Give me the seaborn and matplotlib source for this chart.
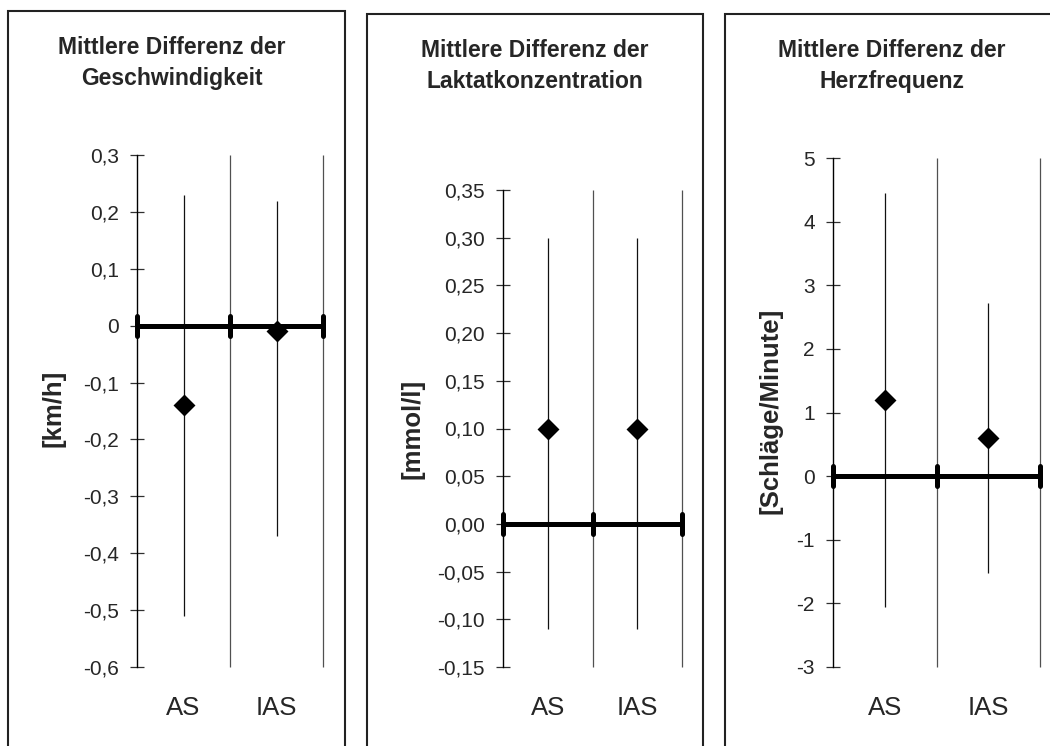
import numpy as np
import pandas as pd
import matplotlib
matplotlib.use("Agg")
import matplotlib.pyplot as plt
from matplotlib.patches import Rectangle
from matplotlib.markers import MarkerStyle
from matplotlib.ticker import FuncFormatter
import seaborn as sns

# ---------------- data ----------------
categories = ["AS", "IAS"]

titles = ["Mittlere Differenz der\nGeschwindigkeit",
          "Mittlere Differenz der\nLaktatkonzentration",
          "Mittlere Differenz der\nHerzfrequenz"]
ylabels = ["[km/h]", "[mmol/l]", "[Schläge/Minute]"]

speed_mean = [-0.14, -0.01]
speed_low = [-0.51, -0.37]
speed_high = [0.23, 0.22]
speed_ticks = [-0.6, -0.5, -0.4, -0.3, -0.2, -0.1, 0.0, 0.1, 0.2, 0.3]

lactate_mean = [0.10, 0.10]
lactate_low = [-0.11, -0.11]
lactate_high = [0.30, 0.30]
lactate_ticks = [-0.15, -0.10, -0.05, 0.00, 0.05, 0.10, 0.15, 0.20, 0.25, 0.30, 0.35]

heart_mean = [1.2, 0.6]
heart_low = [-2.05, -1.52]
heart_high = [4.45, 2.72]
heart_ticks = [-3, -2, -1, 0, 1, 2, 3, 4, 5]

tick_decimals = [1, 2, 0]

# ---------------- style ----------------
sns.set_style("white")
plt.rcParams["font.family"] = ["Liberation Sans", "DejaVu Sans"]

W, H = 1050, 746
fig = plt.figure(figsize=(W / 100, H / 100), dpi=100)

# layout in pixels: (axis_left, axis_right, axis_top, axis_bottom)
layouts = [(137, 323, 155, 667), (503, 682, 190, 667), (833, 1040, 158, 667)]
borders = [(8, 345, 11), (367, 703, 14), (725, 1060, 14)]
title_pos = [(172, 63), (535, 66), (892, 66)]
ylabel_pos = [(53, 408), (413, 429), (770, 411)]

means = [speed_mean, lactate_mean, heart_mean]
lows = [speed_low, lactate_low, heart_low]
highs = [speed_high, lactate_high, heart_high]
ticks = [speed_ticks, lactate_ticks, heart_ticks]


def make_fmt(dec):
    def f(v, pos):
        if dec == 0:
            return f"{int(round(v))}"
        if dec == 1 and abs(v) < 1e-9:
            return "0"
        return f"{v:.{dec}f}".replace(".", ",").replace("-0,00", "0,00")
    return FuncFormatter(f)


for i in range(3):
    l, r, t, b = layouts[i]
    ax = fig.add_axes([l / W, (H - b) / H, (r - l) / W, (b - t) / H])
    xs = np.arange(len(categories))
    bounds = np.arange(len(categories) + 1) - 0.5
    ymin, ymax = ticks[i][0], ticks[i][-1]

    # vertical category separator lines
    ax.vlines(bounds[1:], ymin, ymax, color="#505050", lw=0.9, clip_on=False, zorder=1)
    # confidence lines
    ax.vlines(xs, lows[i], highs[i], color="#111111", lw=0.9, zorder=2)
    # zero line with boundary marks
    ax.plot([bounds[0], bounds[-1]], [0, 0], color="black", lw=3.6,
            solid_capstyle="butt", zorder=3, clip_on=False)
    ax.plot(bounds, np.zeros(len(bounds)), linestyle="none",
            marker=MarkerStyle("|", capstyle="round"), ms=15, mew=3.6,
            color="black", zorder=3, clip_on=False)

    df = pd.DataFrame({"x": xs, "mean": means[i], "cat": categories})
    sns.scatterplot(data=df, x="x", y="mean", marker="D", s=125, color="black",
                    edgecolor="black", linewidth=0, ax=ax, zorder=4, clip_on=False)

    ax.set_xlim(bounds[0], bounds[-1])
    ax.set_ylim(ymin, ymax)
    ax.set_yticks(ticks[i])
    ax.yaxis.set_major_formatter(make_fmt(tick_decimals[i]))
    ax.tick_params(axis="y", direction="inout", length=9.4, width=0.9,
                   color="#303030", labelsize=15, pad=8.4, left=True)
    ax.set_xticks(xs)
    ax.set_xticklabels(categories)
    ax.tick_params(axis="x", length=0, labelsize=18.5, pad=21)
    ax.set_xlabel("")
    for s in ["top", "right", "bottom"]:
        ax.spines[s].set_visible(False)
    ax.spines["left"].set_color("black")
    ax.spines["left"].set_linewidth(1.0)
    ax.set_facecolor("none")

    ax.set_ylabel(ylabels[i], fontsize=18.5, fontweight="bold")
    ax.yaxis.label.set(ha="center", va="center", rotation_mode="default")
    lx, ly = ylabel_pos[i]
    ax.yaxis.set_label_coords((lx - l) / (r - l), (b - ly) / (b - t))

    tx, ty = title_pos[i]
    fig.text(tx / W, (H - ty) / H, titles[i], ha="center", va="center",
             fontsize=16.5, fontweight="bold", linespacing=1.43)

    bl, br, bt = borders[i]
    fig.add_artist(Rectangle((bl / W, -0.1), (br - bl) / W, (H - bt) / H + 0.1,
                             transform=fig.transFigure, fill=False,
                             edgecolor="#222222", lw=1.5, clip_on=False))

fig.savefig("out.png", dpi=100)
